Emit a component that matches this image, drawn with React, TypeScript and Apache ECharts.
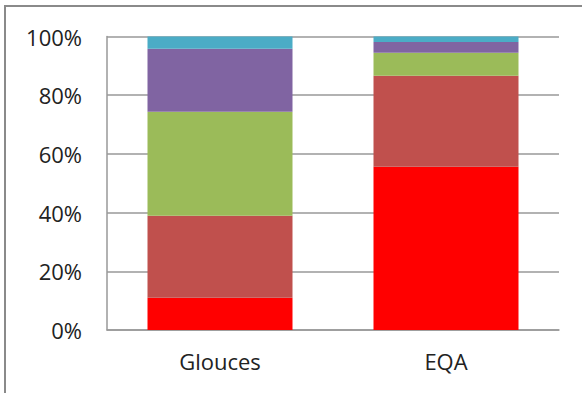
import React, { useEffect, useRef } from "react";
import * as echarts from "echarts";

// Categories and stacked percentage shares per band (bottom to top)
const categories = ["Glouces", "EQA"];
const band1 = [11.0, 55.6];
const band2 = [27.9, 31.0];
const band3 = [35.5, 7.9];
const band4 = [21.4, 3.6];
const band5 = [4.2, 1.9];
const yTicks = [0, 20, 40, 60, 80, 100];

const colors = ["#FF0000", "#C0504D", "#9BBB59", "#8064A2", "#4BACC6"];
const FONT = "Open Sans";

export default function App() {
  const ref = useRef<HTMLDivElement>(null);

  useEffect(() => {
    if (!ref.current) return;
    const chart = echarts.init(ref.current, undefined, { renderer: "svg" });
    const bands = [band1, band2, band3, band4, band5];
    chart.setOption({
      animation: false,
      backgroundColor: "#ffffff",
      grid: { left: 107, right: 23, top: 36.5, bottom: 63 },
      xAxis: {
        type: "category",
        data: categories,
        axisLine: { show: true, lineStyle: { color: "#999999", width: 1.5 } },
        axisTick: { show: false },
        axisLabel: { color: "#222222", fontSize: 22, fontFamily: FONT, margin: 20 },
      },
      yAxis: {
        type: "value",
        min: yTicks[0],
        max: yTicks[yTicks.length - 1],
        interval: 20,
        axisLine: { show: true, lineStyle: { color: "#999999", width: 1.5 } },
        axisTick: { show: false },
        splitLine: { show: true, lineStyle: { color: "#999999", width: 1.5 } },
        axisLabel: {
          color: "#222222",
          fontSize: 22,
          fontFamily: FONT,
          margin: 25,
          formatter: "{value}%",
        },
      },
      graphic: [
        {
          type: "rect",
          shape: { x: 5, y: 6, width: 700, height: 500 },
          style: { fill: "none", stroke: "#8a8a8a", lineWidth: 2 },
          silent: true,
        },
      ],
      series: bands.map((d, i) => ({
        type: "bar",
        stack: "total",
        data: d,
        barWidth: 145,
        itemStyle: { color: colors[i] },
      })),
    });
    return () => chart.dispose();
  }, []);

  return (
    <div
      ref={ref}
      style={{ position: "absolute", left: 0, top: 0, width: 582, height: 393 }}
    />
  );
}
